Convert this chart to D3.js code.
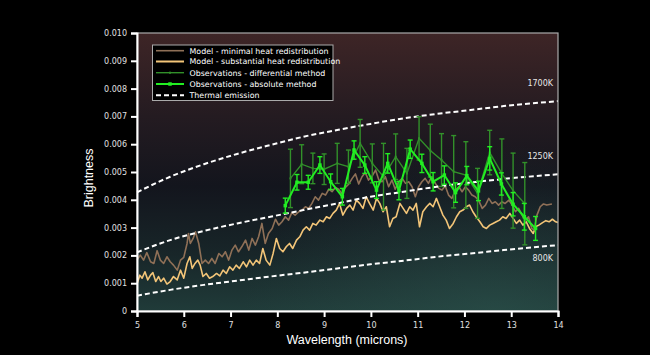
<!DOCTYPE html>
<html><head><meta charset="utf-8">
<script src="https://cdn.jsdelivr.net/npm/d3@7"></script>
<style>html,body{margin:0;padding:0;background:#000;}svg{display:block;}</style>
</head><body><svg id="c" width="650" height="355"></svg>
<script>
// ---- data (brightness in units of 0.001) ----
const xTicks = [5,6,7,8,9,10,11,12,13,14];
const yTicks = [0,1,2,3,4,5,6,7,8,9,10];
const yTickLabels = ["0","0.001","0.002","0.003","0.004","0.005","0.006","0.007","0.008","0.009","0.010"];

const minimalWl = [5.00,5.07,5.14,5.21,5.29,5.36,5.43,5.50,5.57,5.64,5.71,5.78,5.86,5.93,6.00,6.07,6.10,6.14,6.20,6.25,6.32,6.39,6.46,6.53,6.60,6.67,6.75,6.82,6.89,6.96,7.03,7.10,7.17,7.24,7.32,7.39,7.46,7.53,7.60,7.67,7.74,7.81,7.89,7.96,8.03,8.10,8.17,8.24,8.31,8.38,8.46,8.53,8.60,8.67,8.74,8.81,8.88,8.96,9.03,9.10,9.17,9.24,9.31,9.38,9.45,9.53,9.60,9.67,9.74,9.81,9.88,9.95,10.02,10.10,10.17,10.24,10.31,10.38,10.45,10.52,10.59,10.67,10.74,10.81,10.88,10.95,11.02,11.09,11.16,11.23,11.30,11.38,11.45,11.52,11.59,11.66,11.73,11.81,11.88,11.95,12.02,12.09,12.16,12.23,12.30,12.38,12.45,12.52,12.59,12.66,12.73,12.80,12.87,12.95,13.02,13.09,13.16,13.23,13.30,13.37,13.44,13.49,13.55,13.62,13.69,13.76,13.87];
const minimalB = [1.83,2.01,1.83,2.10,1.77,1.71,2.17,1.83,1.71,1.95,1.77,1.65,1.47,1.83,1.93,2.43,2.79,2.43,2.61,2.85,2.43,1.71,1.83,1.71,1.89,1.71,2.07,1.95,2.13,1.83,2.19,2.37,2.13,2.31,2.55,2.19,2.61,2.37,2.67,3.15,2.43,2.79,2.97,3.30,3.09,3.21,3.39,3.27,3.54,3.45,3.57,3.63,3.75,3.69,3.87,4.11,3.99,4.23,4.17,4.38,4.29,4.44,4.38,4.23,4.44,4.57,4.77,4.93,4.57,4.83,4.98,4.71,4.83,5.07,4.71,4.65,4.83,4.47,4.71,4.38,4.65,4.77,4.59,4.65,4.47,4.11,4.47,4.65,4.77,4.59,4.83,4.59,4.41,4.35,4.50,4.17,4.05,4.35,4.47,4.29,4.47,4.35,4.17,4.11,3.99,3.69,3.81,4.05,3.87,3.93,3.81,3.93,3.87,3.99,3.81,3.57,3.69,3.45,3.27,3.39,2.97,2.91,3.45,3.75,3.85,3.81,3.85];

const substantialWl = [5.00,5.06,5.11,5.17,5.23,5.29,5.34,5.40,5.46,5.51,5.57,5.64,5.71,5.78,5.86,5.93,6.00,6.07,6.13,6.18,6.24,6.30,6.35,6.41,6.48,6.55,6.62,6.70,6.77,6.84,6.91,6.98,7.05,7.12,7.19,7.27,7.34,7.41,7.48,7.55,7.62,7.69,7.76,7.84,7.91,7.98,8.05,8.12,8.19,8.26,8.33,8.41,8.48,8.55,8.62,8.69,8.76,8.83,8.91,8.98,9.05,9.12,9.19,9.26,9.33,9.40,9.48,9.55,9.62,9.69,9.76,9.83,9.90,9.97,10.05,10.12,10.19,10.26,10.33,10.40,10.47,10.54,10.62,10.69,10.76,10.83,10.90,10.97,11.04,11.11,11.19,11.26,11.33,11.40,11.47,11.54,11.61,11.68,11.76,11.83,11.90,11.97,12.04,12.11,12.18,12.25,12.33,12.40,12.47,12.54,12.61,12.68,12.75,12.82,12.89,12.97,13.04,13.11,13.18,13.25,13.32,13.39,13.47,13.52,13.59,13.67,13.74,13.81,13.88,13.95,14.00];
const substantialB = [0.97,1.29,1.18,1.41,1.12,1.29,1.38,1.06,1.24,1.06,1.18,0.97,1.06,1.24,1.12,1.47,1.18,1.71,1.95,1.53,1.71,1.83,1.65,1.24,1.35,1.18,1.24,1.35,1.26,1.47,1.35,1.59,1.47,1.65,1.53,1.77,1.59,1.83,1.65,1.83,1.71,2.25,1.83,1.65,2.07,2.61,2.25,2.13,2.31,2.43,2.25,2.55,2.67,2.91,3.03,2.91,3.15,3.09,3.27,3.21,3.39,3.33,3.51,3.63,3.87,3.45,3.69,3.81,3.63,3.99,3.87,3.69,4.11,3.87,3.63,4.05,3.87,3.57,3.75,3.03,3.33,3.39,3.87,3.69,3.51,3.75,3.63,3.87,3.03,3.57,3.75,3.87,3.75,4.05,3.75,3.45,3.27,2.97,3.15,3.39,3.57,3.63,3.75,3.81,3.57,3.39,3.21,3.03,2.97,3.09,3.15,3.21,3.27,3.39,3.33,3.51,3.33,3.15,3.27,3.09,3.21,2.97,2.79,3.03,3.09,3.18,3.25,3.21,3.30,3.21,3.18];

const diffWl  = [8.28,8.52,8.76,9.00,9.28,9.52,9.77,10.03,10.27,10.53,10.77,11.03,11.27,11.51,11.77,12.03,12.28,12.54,12.80,13.04,13.29];
const diffB   = [4.77,5.28,5.13,5.10,5.31,5.19,6.03,5.31,4.83,5.55,4.95,6.21,5.77,5.43,5.01,4.89,4.23,5.70,4.94,4.33,3.86];
const diffErr = [1.05,0.70,0.55,0.55,0.72,0.60,0.86,0.70,1.20,0.82,0.90,0.78,0.95,0.95,1.30,1.20,0.90,0.80,1.25,1.35,1.48];

const absWl  = [8.17,8.42,8.66,8.91,9.14,9.39,9.64,9.87,10.12,10.36,10.60,10.84,11.09,11.33,11.57,11.81,12.05,12.30,12.54,12.79,13.04,13.28,13.52];
const absB   = [3.79,4.63,4.63,5.25,4.65,4.11,5.79,5.25,4.35,5.31,4.33,5.82,5.31,4.65,4.89,4.26,4.87,4.32,5.49,4.57,3.84,3.39,2.97];
const absErr = [0.27,0.28,0.25,0.30,0.28,0.30,0.33,0.30,0.30,0.35,0.33,0.33,0.33,0.33,0.33,0.35,0.33,0.35,0.42,0.40,0.42,0.48,0.43];

const thermWl = [5.00,5.71,6.43,7.14,7.85,8.56,9.28,9.99,10.70,11.41,12.13,12.84,14.00];
const therm1700 = [4.27,4.83,5.28,5.65,5.97,6.27,6.51,6.73,6.93,7.09,7.23,7.37,7.55];
const therm1250 = [2.11,2.55,2.88,3.15,3.39,3.63,3.87,4.11,4.29,4.47,4.62,4.75,4.92];
const therm800  = [0.55,0.76,0.94,1.09,1.24,1.38,1.53,1.68,1.81,1.95,2.07,2.19,2.37];
const thermLabels = ["1700K","1250K","800K"];

const legendLabels = ["Model - minimal heat redistribution","Model - substantial heat redistribution","Observations - differential method","Observations - absolute method","Thermal emission"];

// ---- drawing ----
const svg = d3.select("#c");
const x = d3.scaleLinear().domain([5,14]).range([137,558]);
const y = d3.scaleLinear().domain([0,10]).range([311,33]);
const C = {minimal:"#8f7057", subst:"#f3c578", diff:"#32902a", abs:"#22ee22", therm:"#ffffff"};

const defs = svg.append("defs");
const g1 = defs.append("linearGradient").attr("id","bg").attr("x1",0).attr("y1",0).attr("x2",0).attr("y2",1);
[["0%","#3e2526"],["30%","#241b21"],["55%","#13151d"],["80%","#182629"],["100%","#203b39"]].forEach(s=>g1.append("stop").attr("offset",s[0]).attr("stop-color",s[1]));
const g2 = defs.append("radialGradient").attr("id","rg").attr("cx","0.85").attr("cy","1").attr("r","0.6");
g2.append("stop").attr("offset","0%").attr("stop-color","#2f5a52").attr("stop-opacity",0.45);
g2.append("stop").attr("offset","100%").attr("stop-color","#2f5a52").attr("stop-opacity",0);

svg.append("rect").attr("x",x(5)).attr("y",y(10)).attr("width",x(14)-x(5)).attr("height",y(0)-y(10)).attr("fill","url(#bg)");
svg.append("rect").attr("x",x(5)).attr("y",y(10)).attr("width",x(14)-x(5)).attr("height",y(0)-y(10)).attr("fill","url(#rg)");

const line = (wl, b, curve) => d3.line().x((d,i)=>x(wl[i])).y((d,i)=>y(b[i])).curve(curve||d3.curveLinear)(b);

// models
svg.append("path").attr("d",line(substantialWl,substantialB)).attr("fill","none").attr("stroke",C.subst).attr("stroke-width",1.6).attr("stroke-linejoin","round");
svg.append("path").attr("d",line(minimalWl,minimalB)).attr("fill","none").attr("stroke",C.minimal).attr("stroke-width",1.6).attr("stroke-linejoin","round");

// thermal
[therm1700,therm1250,therm800].forEach(t=>{
  svg.append("path").attr("d",line(thermWl,t,d3.curveMonotoneX)).attr("fill","none").attr("stroke",C.therm).attr("stroke-width",2).attr("stroke-dasharray","5,3");
});
const labY = [therm1700[therm1700.length-1]+0.55, therm1250[therm1250.length-1]+0.55, therm800[therm800.length-1]-0.45];
thermLabels.forEach((t,i)=>{
  svg.append("text").attr("x",553).attr("y",y(labY[i])+ (i==2?3:0)).attr("text-anchor","end")
    .attr("font-family","DejaVu Sans").attr("font-size",8).attr("fill","#e6e6e6").text(t);
});

// observations
function obs(wl,b,err,color,lw,capw,marker){
  const g = svg.append("g");
  g.append("path").attr("d",line(wl,b)).attr("fill","none").attr("stroke",color).attr("stroke-width",lw);
  b.forEach((v,i)=>{
    const cx = x(wl[i]);
    g.append("line").attr("x1",cx).attr("x2",cx).attr("y1",y(v-err[i])).attr("y2",y(v+err[i])).attr("stroke",color).attr("stroke-width",1.4);
    [v-err[i],v+err[i]].forEach(e=>g.append("line").attr("x1",cx-capw).attr("x2",cx+capw).attr("y1",y(e)).attr("y2",y(e)).attr("stroke",color).attr("stroke-width",1.4));
    g.append("rect").attr("x",cx-marker/2).attr("y",y(v)-marker/2).attr("width",marker).attr("height",marker).attr("fill",color);
  });
}
obs(diffWl,diffB,diffErr,C.diff,1.4,2.5,2);
obs(absWl,absB,absErr,C.abs,2,2.5,3.5);

// frame & axes
svg.append("rect").attr("x",x(5)).attr("y",y(10)).attr("width",x(14)-x(5)).attr("height",y(0)-y(10)).attr("fill","none").attr("stroke","#aaaaaa").attr("stroke-width",1.2);
const xAxis = svg.append("g").attr("transform",`translate(0,${y(0)})`)
  .call(d3.axisBottom(x).tickValues(xTicks).tickFormat(d3.format("d")).tickSize(6).tickPadding(5));
const yAxis = svg.append("g").attr("transform",`translate(${x(5)},0)`)
  .call(d3.axisLeft(y).tickValues(yTicks).tickFormat((d,i)=>yTickLabels[i]).tickSize(6).tickPadding(4));
[xAxis,yAxis].forEach(a=>{
  a.select(".domain").attr("stroke","#fff").attr("stroke-width",2);
  a.selectAll(".tick line").attr("stroke","#fff").attr("stroke-width",2);
  a.selectAll(".tick text").attr("fill","#e0e0e0").attr("font-family","DejaVu Sans").attr("font-size",8);
});

svg.append("text").attr("x",347).attr("y",344).attr("text-anchor","middle").attr("fill","#fff")
  .attr("font-family","Liberation Sans, Arial").attr("font-size",12.5).text("Wavelength (microns)");
svg.append("text").attr("transform","translate(93,178) rotate(-90)").attr("text-anchor","middle").attr("fill","#fff")
  .attr("font-family","Liberation Sans, Arial").attr("font-size",12.5).text("Brightness");

// legend
const lg = svg.append("g");
lg.append("rect").attr("x",152.5).attr("y",45).attr("width",180.5).attr("height",55.5).attr("fill","#000").attr("stroke","#aaaaaa").attr("stroke-width",1);
const rowY = [50.7,61.5,72.7,84,95.2];
const styles = [
  {c:C.minimal,w:1.6,dash:null,m:0},
  {c:C.subst,w:2,dash:null,m:0},
  {c:C.diff,w:1.4,dash:null,m:2},
  {c:C.abs,w:2,dash:null,m:3.5},
  {c:"#fff",w:2,dash:"5,3",m:0}
];
legendLabels.forEach((t,i)=>{
  const s = styles[i];
  const l = lg.append("line").attr("x1",156).attr("x2",184).attr("y1",rowY[i]).attr("y2",rowY[i]).attr("stroke",s.c).attr("stroke-width",s.w);
  if(s.dash) l.attr("stroke-dasharray",s.dash);
  if(s.m) lg.append("rect").attr("x",170-s.m/2).attr("y",rowY[i]-s.m/2).attr("width",s.m).attr("height",s.m).attr("fill",s.c);
  lg.append("text").attr("x",189.5).attr("y",rowY[i]+2.8).attr("fill","#fff").attr("font-family","DejaVu Sans").attr("font-size",7.9).text(t);
});
</script></body></html>
